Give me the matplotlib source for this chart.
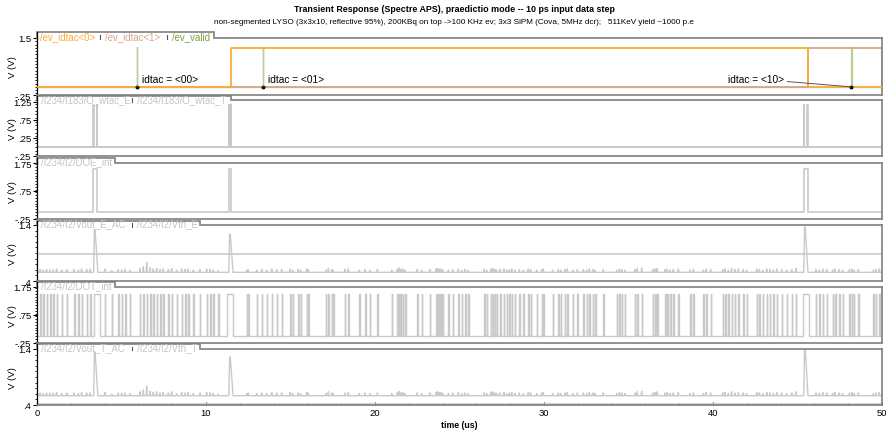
import matplotlib
matplotlib.use('Agg')
import matplotlib.pyplot as plt
import numpy as np
from matplotlib.ticker import FixedLocator, MultipleLocator

plt.rcParams['font.family'] = ['Liberation Sans', 'DejaVu Sans']

# ---------------- data ----------------
title = "Transient Response (Spectre APS), praedictio mode -- 10 ps input data step"
subtitle = ("non-segmented LYSO (3x3x10, reflective 95%), 200KBq on top ->100 KHz ev; "
            "3x3 SiPM (Cova, 5MHz dcr);   511KeV yield ~1000 p.e")
t_end = 50.0
x_ticks = [0, 10, 20, 30, 40, 50]

# panel 1: digital event outputs
idtac0_rise, idtac0_fall = 11.48, 45.64
idtac1_rise = 45.64
idtac_high = 1.20
ev_valid_times = [5.90, 13.37, 48.18]
ev_valid_high = 1.22
idtac_codes = ['<00>', '<01>', '<10>']

# panel 2: O_wtac_E / O_wtac_T narrow pulses
wtac_E_times = [3.33, 11.36, 45.38]
wtac_T_times = [3.53, 11.48, 45.58]
wtac_high = 1.17

# panel 3: DOE_int
doe_start = [3.33, 11.36, 45.38]
doe_end = [3.53, 11.50, 45.60]
doe_high = 1.54

# panel 4 / 6: analog outputs
vout_E_base = 0.555
vth_E = 0.88
vout_T_base = 0.566
vth_T = 0.41
event_times = [3.40, 11.40, 45.42]
vout_E_peaks = [1.32, 1.24, 1.37]
vout_T_peaks = [1.35, 1.26, 1.42]

# panel 5: DOT_int pulses (dark counts) and event pulses
dot_high = 1.50
dot_event_start = [3.37, 11.22, 45.31]
dot_event_end = [3.73, 11.62, 45.70]
dot_times = [
    0.18, 0.37, 0.57, 0.77, 0.97, 1.16, 1.46, 1.76, 2.19, 2.45, 2.64, 2.94, 3.14,
    4.02, 4.42, 4.81, 5.01, 5.21, 5.50, 6.09, 6.29, 6.49, 6.69, 6.88, 7.08, 7.28, 7.47,
    7.77, 7.97, 8.26, 8.56, 8.76, 8.95, 9.25, 9.64, 10.04, 10.24, 10.43, 10.73,
    12.41, 12.50, 13.00, 13.30, 13.59, 13.89, 14.18,
    14.48, 14.97, 15.13, 15.46, 15.60, 15.96, 16.05, 17.10, 17.24, 17.44, 17.53, 18.22,
    18.42, 19.07, 19.41, 19.70,
    20.14, 20.99, 21.32, 21.44, 21.52, 21.64, 21.78, 22.50, 22.76, 23.25, 23.62, 23.70,
    23.78, 23.86, 23.94, 24.00, 24.34, 24.60, 24.93, 25.13, 25.33, 25.52,
    26.45, 26.61, 26.85, 26.97, 27.10, 27.20, 27.40, 27.63, 27.79, 27.95, 28.09, 28.28,
    28.54, 28.78, 29.07, 29.21, 29.57, 29.86, 29.96, 30.51, 30.85, 30.99, 31.24, 31.38,
    31.70, 31.97,
    32.33, 32.52, 32.68, 32.88, 33.02, 33.51, 34.30, 34.46, 34.60, 34.79, 35.38, 35.52,
    35.78, 36.43, 36.57, 36.70, 37.16, 37.30, 37.46, 37.65, 37.95, 38.64, 38.84, 39.43,
    39.59, 39.86,
    40.57, 40.71, 40.91, 41.10, 41.30, 41.50, 41.79, 41.99, 42.59, 42.74, 42.94, 43.18,
    43.37, 43.57, 43.77, 44.06, 44.36, 44.66, 44.91,
    46.09, 46.29, 46.49, 46.73, 47.08, 47.22, 47.47, 47.67, 48.07, 48.21, 48.34, 48.60,
    49.49, 49.64, 49.84]
# spike heights above baseline on the analog outputs, one per dark count
spike_h = [
    0.05, 0.04, 0.05, 0.04, 0.05, 0.06, 0.04, 0.05, 0.05, 0.04, 0.06, 0.05, 0.05,
    0.06, 0.03, 0.05, 0.04, 0.05, 0.04, 0.07, 0.10, 0.17, 0.08, 0.06, 0.07, 0.05, 0.06,
    0.05, 0.07, 0.04, 0.06, 0.05, 0.06, 0.04, 0.05, 0.06, 0.05, 0.04, 0.03,
    0.04, 0.05, 0.04, 0.05, 0.04, 0.06, 0.05,
    0.05, 0.06, 0.04, 0.05, 0.04, 0.06, 0.05, 0.04, 0.07, 0.05, 0.04, 0.05,
    0.06, 0.04, 0.05, 0.04,
    0.05, 0.04, 0.06, 0.08, 0.05, 0.06, 0.04, 0.05, 0.04, 0.05, 0.06, 0.07,
    0.05, 0.06, 0.04, 0.05, 0.04, 0.05, 0.06, 0.04, 0.05, 0.04,
    0.05, 0.04, 0.06, 0.07, 0.05, 0.04, 0.05, 0.06, 0.04, 0.05, 0.06, 0.04,
    0.05, 0.04, 0.06, 0.05, 0.04, 0.05, 0.06, 0.04, 0.05, 0.04, 0.05, 0.06,
    0.04, 0.05,
    0.05, 0.04, 0.06, 0.05, 0.04, 0.05, 0.04, 0.06, 0.05, 0.04, 0.05, 0.07,
    0.08, 0.05, 0.06, 0.07, 0.05, 0.06, 0.04, 0.05, 0.06, 0.04, 0.05, 0.04,
    0.06, 0.05,
    0.05, 0.06, 0.04, 0.07, 0.05, 0.06, 0.05, 0.04, 0.06, 0.05, 0.04, 0.06,
    0.05, 0.04, 0.06, 0.05, 0.04, 0.05, 0.07,
    0.05, 0.04, 0.06, 0.05, 0.04, 0.06, 0.05, 0.04, 0.05, 0.06, 0.04, 0.05,
    0.04, 0.05, 0.06]

# --------------- colours ---------------
C_ORANGE = '#f9ae35'
C_SALMON = '#d9a487'
C_GREEN_TXT = '#7a9f3a'
C_GREEN = '#bcd197'
C_GRAY = '#c9c9c9'
C_TABTXT = '#c4c4c4'
C_FRAME = '#7f7f7f'


# --------------- helpers ---------------
def step_wave(starts, ends, high):
    t = [0.0]
    v = [0.0]
    for s, e in sorted(zip(starts, ends)):
        t += [s, s, e, e]
        v += [0, high, high, 0]
    t.append(t_end)
    v.append(0)
    return np.array(t), np.array(v)


def analog_wave(base, spike_t, spike_hts, ev_t, ev_peak):
    items = [(s, 'spike', h) for s, h in zip(spike_t, spike_hts)]
    items += [(s, 'event', p) for s, p in zip(ev_t, ev_peak)]
    items.sort()
    t = [0.0]
    v = [base]
    w = 0.03
    for s, kind, h in items:
        if kind == 'spike':
            t += [s - w, s, s + w]
            v += [base, base + h, base]
        else:
            t += [s - 0.05, s, s + 0.04, s + 0.2]
            v += [base, h, h - 0.02, base]
    t.append(t_end)
    v.append(base)
    return np.array(t), np.array(v)


W, H = 887, 431
fig = plt.figure(figsize=(W / 100, H / 100), dpi=100)
X0, X1 = 37, 882
TICK_FS = 6.8

panels = [  # top, bottom px, ylim, major ticks, labels, tab top, tab end
    (39, 96, (-0.25, 1.5), [-0.25, 1.5], ['-.25', '1.5'], 33, 214),
    (101, 157, (-0.25, 1.3), [-0.25, 0.25, 0.75, 1.25], ['-.25', '.25', '.75', '1.25'], 97, 231),
    (164, 220, (-0.25, 1.75), [-0.25, 0.75, 1.75], ['-.25', '.75', '1.75'], 158.5, 115),
    (226, 282, (0.4, 1.4), [0.4, 1.4], ['.4', '1.4'], 221.5, 200),
    (288, 344, (-0.25, 1.75), [-0.25, 0.75, 1.75], ['-.25', '.75', '1.75'], 282.5, 115),
    (350, 406, (0.4, 1.4), [0.4, 1.4], ['.4', '1.4'], 344.5, 200),
]

axes = []
for i, (top, bot, yl, tk, tl, tt, te) in enumerate(panels):
    ax = fig.add_axes([X0 / W, (H - bot) / H, (X1 - X0) / W, (bot - top) / H])
    ax.set_xlim(0, t_end)
    ax.set_ylim(*yl)
    ax.yaxis.set_major_locator(FixedLocator(tk))
    ax.set_yticklabels(tl)
    ax.yaxis.set_minor_locator(MultipleLocator(0.1))
    ax.tick_params(axis='y', which='major', length=3, width=0.8, labelsize=TICK_FS,
                   pad=1, colors='black', direction='out')
    ax.tick_params(axis='y', which='minor', length=1.5, width=0.6, direction='out')
    ax.set_xticks(x_ticks)
    ax.xaxis.set_minor_locator(MultipleLocator(2))
    ax.tick_params(axis='x', which='both', direction='in', length=2.5, width=0.7)
    ax.tick_params(axis='x', which='minor', length=1.5)
    if i < 5:
        ax.tick_params(axis='x', labelbottom=False, which='both', length=0)
    else:
        ax.tick_params(axis='x', labelsize=TICK_FS, pad=2.5)
        ax.set_xlabel('time (us)', fontsize=6.3, fontweight='bold', labelpad=1.5)
    ax.spines['top'].set_visible(False)
    for s in ('right', 'bottom'):
        ax.spines[s].set_color(C_FRAME)
        ax.spines[s].set_linewidth(1.2)
    ax.spines['left'].set_color('black')
    ax.spines['left'].set_linewidth(0.9)
    ax.set_ylabel('V (V)', fontsize=TICK_FS, labelpad=4)
    ax.yaxis.set_label_coords(-0.024, 0.5)
    axes.append(ax)

ax1, ax2, ax3, ax4, ax5, ax6 = axes

# ---- panel 1 ----
t1, v1 = step_wave([idtac1_rise], [t_end], idtac_high)
ax1.plot(t1, v1, color=C_SALMON, lw=1.3, zorder=2)
t0, v0 = step_wave([idtac0_rise], [idtac0_fall], idtac_high)
ax1.plot(t0, v0, color=C_ORANGE, lw=1.3, zorder=3)
tv, vv = step_wave(ev_valid_times, [t + 0.03 for t in ev_valid_times], ev_valid_high)
ax1.plot(tv, vv, color=C_GREEN, lw=1.0, zorder=1)
ax1.plot(ev_valid_times, [0] * 3, 'o', color='black', ms=1.8, zorder=5)
for k, (tt_, code) in enumerate(zip(ev_valid_times, idtac_codes)):
    if k < 2:
        ax1.annotate('idtac = ' + code, xy=(tt_, 0), xytext=(tt_ + 0.3, 0.24),
                     fontsize=7.3, color='black', va='center', ha='left',
                     arrowprops=dict(arrowstyle='-', color='#555555', lw=0.7,
                                     shrinkA=0, shrinkB=0), zorder=6)
    else:
        ax1.annotate('idtac = ' + code, xy=(tt_, 0), xytext=(tt_ - 3.95, 0.24),
                     fontsize=7.3, color='black', va='center', ha='right',
                     arrowprops=dict(arrowstyle='-', color='#555555', lw=0.7,
                                     shrinkA=0, shrinkB=0), zorder=6)

# ---- panel 2 ----
tw, vw = step_wave(wtac_E_times, [t + 0.02 for t in wtac_E_times], wtac_high)
ax2.plot(tw, vw, color=C_GRAY, lw=1.2)
tw2, vw2 = step_wave(wtac_T_times, [t + 0.02 for t in wtac_T_times], wtac_high)
ax2.plot(tw2, vw2, color=C_GRAY, lw=1.2)

# ---- panel 3 ----
td, vd = step_wave(doe_start, doe_end, doe_high)
ax3.plot(td, vd, color=C_GRAY, lw=1.2)

# ---- panel 4 ----
ta, va = analog_wave(vout_E_base, dot_times, spike_h, event_times, vout_E_peaks)
ax4.plot(ta, va, color=C_GRAY, lw=1.0)
ax4.axhline(vth_E, color=C_GRAY, lw=1.2)

# ---- panel 5 ----
starts = list(dot_times) + dot_event_start
ends = [t + 0.03 for t in dot_times] + dot_event_end
tdot, vdot = step_wave(starts, ends, dot_high)
ax5.plot(tdot, vdot, color=C_GRAY, lw=1.0)

# ---- panel 6 ----
tb, vb = analog_wave(vout_T_base, dot_times, spike_h, event_times, vout_T_peaks)
ax6.plot(tb, vb, color=C_GRAY, lw=1.0)
ax6.axhline(vth_T, color=C_GRAY, lw=1.2)

# ---------------- overlay: titles, tabs ----------------
ov = fig.add_axes([0, 0, 1, 1], zorder=20)
ov.set_xlim(0, W)
ov.set_ylim(H, 0)
ov.axis('off')
ov.patch.set_alpha(0)

ov.text(454, 10, title, ha='center', va='center', fontsize=6.4, fontweight='bold')
ov.text(454, 22, subtitle, ha='center', va='center', fontsize=5.9)

TAB_FS = 6.9
tab_labels = [
    [('/ev_idtac<0>', C_ORANGE, 40), ('/ev_idtac<1>', C_SALMON, 105), ('/ev_valid', C_GREEN_TXT, 172)],
    [('/I234/I183/O_wtac_E', C_TABTXT, 41), ('/I234/I183/O_wtac_T', C_TABTXT, 137)],
    [('/I234/I2/DOE_int', C_TABTXT, 41)],
    [('/I234/I2/Vout_E_AC', C_TABTXT, 41), ('/I234/I2/Vth_E', C_TABTXT, 137)],
    [('/I234/I2/DOT_int', C_TABTXT, 41)],
    [('/I234/I2/Vout_T_AC', C_TABTXT, 41), ('/I234/I2/Vth_T', C_TABTXT, 137)],
]
for (top, bot, yl, tk, tl, tt, te), labs in zip(panels, tab_labels):
    ov.plot([X0, X0, te, te, X1], [top, tt, tt, top, top], color=C_FRAME, lw=1.2,
            solid_joinstyle='miter')
    ov.plot([X0, X0], [top, tt], color='black', lw=0.9)
    ymid = (tt + top) / 2 + 0.8
    for j, (txt, col, xp) in enumerate(labs):
        ov.text(xp, ymid, txt, color=col, fontsize=TAB_FS, ha='left', va='center')
        if j > 0:
            ov.plot([xp - 5, xp - 5], [ymid - 0.5, ymid + 3], color='#555555', lw=0.8)

fig.savefig('out.png', dpi=100)
